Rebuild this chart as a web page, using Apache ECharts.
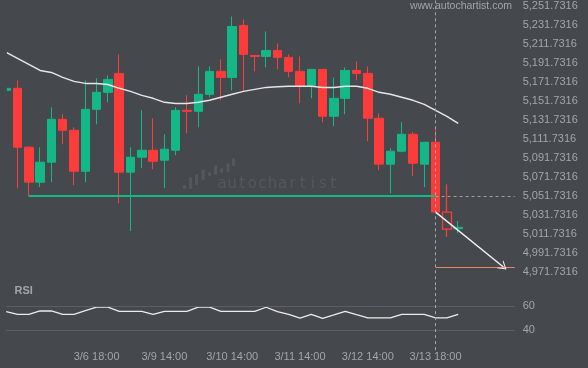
<!DOCTYPE html>
<html>
<head>
<meta charset="utf-8">
<script src="https://cdn.jsdelivr.net/npm/echarts@6/dist/echarts.min.js"></script>
<style>
html,body{margin:0;padding:0;background:#45484d;}
#chart{width:588px;height:368px;}
</style>
</head>
<body>
<div id="chart"></div>
<script>
const CATEGORIES = [
  '3/5 10:00','3/5 14:00','3/5 18:00','3/5 22:00','3/6 02:00','3/6 06:00','3/6 10:00','3/6 14:00',
  '3/6 18:00','3/6 22:00','3/8 22:00','3/9 02:00','3/9 06:00','3/9 10:00','3/9 14:00','3/9 18:00',
  '3/9 22:00','3/10 02:00','3/10 06:00','3/10 10:00','3/10 14:00','3/10 18:00','3/10 22:00','3/11 02:00',
  '3/11 06:00','3/11 10:00','3/11 14:00','3/11 18:00','3/11 22:00','3/12 02:00','3/12 06:00','3/12 10:00',
  '3/12 14:00','3/12 18:00','3/12 22:00','3/13 06:00','3/13 10:00','3/13 14:00','3/13 18:00','3/13 22:00',
  '3/14 02:00','3/14 06:00','3/14 10:00','3/14 14:00','3/14 18:00','3/14 22:00'
];
const X_TICK_LABELS = ['3/6 18:00','3/9 14:00','3/10 14:00','3/11 14:00','3/12 14:00','3/13 18:00'];

const OPEN  = [5162.7,5164.8,5103.0,5066.3,5087.3,5132.3,5120.8,5077.8,5142.8,5160.6,5180.5,5076.8,5092.5,5099.8,5089.4,5099.8,5141.7,5140.7,5158.5,5182.6,5176.3,5230.8,5199.4,5198.3,5204.6,5197.3,5182.6,5167.9,5184.7,5135.5,5154.3,5183.6,5180.5,5133.4,5085.2,5098.8,5116.6,5085.2,5108.2,5034.9,5017.5];
const CLOSE = [5164.8,5103.0,5066.3,5087.3,5132.3,5120.8,5077.8,5142.8,5160.6,5174.2,5076.8,5092.5,5099.8,5088.3,5100.9,5141.7,5140.7,5158.5,5182.6,5176.3,5229.7,5200.4,5198.3,5204.6,5197.3,5182.6,5167.9,5184.7,5135.5,5154.3,5183.6,5180.5,5133.4,5085.2,5098.8,5116.6,5086.2,5108.2,5034.9,5017.1,5019.0];
const LOW   = [5162.7,5060.0,5051.7,5061.1,5066.3,5106.1,5063.2,5066.3,5127.1,5150.1,5044.3,5015.0,5081.0,5079.9,5060.0,5094.6,5117.6,5123.9,5155.4,5152.2,5162.7,5161.6,5182.6,5186.8,5184.7,5176.3,5149.1,5154.3,5129.2,5125.0,5137.5,5173.2,5109.3,5078.9,5054.8,5097.7,5072.6,5061.1,5034.9,5008.7,5012.9];
const HIGH  = [5164.8,5173.2,5104.0,5103.0,5144.9,5137.5,5123.9,5173.2,5175.3,5178.4,5200.4,5103.0,5141.7,5133.4,5116.6,5144.9,5157.5,5187.8,5187.8,5195.2,5240.2,5237.1,5199.4,5224.5,5211.9,5200.4,5198.3,5184.7,5184.7,5176.3,5186.8,5193.1,5187.8,5138.6,5101.9,5129.2,5118.7,5108.2,5123.9,5064.2,5025.5];
const HOLLOW_INDEX = 39;

const MA = [5202.5,5196.2,5189.9,5183.6,5181.5,5176.3,5172.1,5170.0,5170.0,5168.9,5164.8,5161.6,5157.4,5154.3,5150.1,5149.0,5149.0,5150.1,5152.2,5155.4,5158.5,5161.6,5163.7,5165.8,5166.4,5166.9,5166.9,5166.9,5165.8,5165.8,5166.9,5166.9,5164.8,5160.6,5158.5,5155.4,5152.2,5148.0,5141.7,5135.4,5128.1];
const RSI = [55.5,53.3,53.3,56.1,56.1,53.3,53.3,56.4,59.4,59.4,55.8,55.8,55.8,53.3,55.8,55.8,55.8,59.4,59.4,55.8,55.8,55.8,55.8,59.2,55.5,53.3,50.2,53.3,50.0,52.8,55.8,53.0,50.3,50.3,50.3,53.3,53.3,53.3,50.3,50.3,53.3];

const PRICE_TICKS = [4971.7316,4991.7316,5011.7316,5031.7316,5051.7316,5071.7316,5091.7316,5111.7316,5131.7316,5151.7316,5171.7316,5191.7316,5211.7316,5231.7316,5251.7316];
const RSI_TICKS = [40, 60];

const SUPPORT = 5051.7316;
const SUPPORT_START = 2;
const SIGNAL_INDEX = 38;
const TARGET = 4977.3;
const TARGET_INDEX = 44;

const BG = '#45484d', RED = '#fc3b3b', GREEN = '#14b886', LABEL = '#a2a5aa';
const FONT = '"Liberation Sans", Arial, sans-serif';

function fmt(v) {
  const s = v.toFixed(4).split('.');
  return s[0].replace(/\B(?=(\d{3})+(?!\d))/g, ',') + '.' + s[1];
}

const candleData = OPEN.map((o, i) => {
  const item = { value: [o, CLOSE[i], LOW[i], HIGH[i]] };
  if (i === HOLLOW_INDEX) item.itemStyle = { color0: 'rgba(0,0,0,0)', borderColor0: RED, borderWidth: 1.3 };
  return item;
});

// watermark (decorative)
const wmBars = [[183,185,4],[189,177,12],[195,174,11],[201.5,169,11],[208,172,4],[214,165,10],[220,168,5],[226.5,163,9],[232,158,8]];
const wmChildren = wmBars.map(b => ({ type:'rect', shape:{x:b[0], y:b[1], width:3.2, height:b[2], r:1.5}, style:{fill:'#54585d'} }));
'autochartist'.split('').forEach((ch, i) => {
  wmChildren.push({ type:'text', x: 222 + i*10.1, y: 177, style:{ text: ch, fill:'#54585d', font:'15px "DejaVu Sans", sans-serif', align:'center' } });
});

const chart = echarts.init(document.getElementById('chart'), null, { renderer: 'canvas' });
chart.setOption({
  backgroundColor: BG,
  animation: false,
  title: [
    { text: 'www.autochartist.com', right: 76, top: 1, padding: 0, textStyle: { color: LABEL, fontSize: 10.5, fontWeight: 'normal', fontFamily: FONT } },
    { text: 'RSI', left: 14.5, top: 285.5, padding: 0, textStyle: { color: LABEL, fontSize: 11, fontWeight: 'bold', fontFamily: FONT } }
  ],
  graphic: [
    { type: 'group', z: 0, silent: true, children: wmChildren },
    // plot-area clip edge: hides the part of the first candle left of the price pane
    { type: 'rect', z: 100, silent: true, shape: { x: 0, y: 0, width: 6.8, height: 285 }, style: { fill: BG } }
  ],
  grid: [
    { left: 6.2, right: 73.3, top: 0, height: 285.3 },
    { left: 6.2, right: 73.3, top: 285.3, height: 64.8 }
  ],
  xAxis: [
    { type: 'category', gridIndex: 0, data: CATEGORIES, boundaryGap: false,
      axisLine: { show: false }, axisTick: { show: false }, axisLabel: { show: false }, splitLine: { show: false } },
    { type: 'category', gridIndex: 1, data: CATEGORIES, boundaryGap: false,
      axisLine: { show: false }, axisTick: { show: false }, splitLine: { show: false },
      axisLabel: { interval: (i, v) => X_TICK_LABELS.includes(v), color: LABEL, fontSize: 11, fontFamily: FONT, margin: 1.5 } }
  ],
  yAxis: [
    { type: 'value', gridIndex: 0, position: 'right', min: 4958.1, max: 5256.97, scale: true,
      splitLine: { show: false }, axisLine: { show: false }, axisTick: { show: false },
      axisLabel: { customValues: PRICE_TICKS, formatter: fmt, color: LABEL, fontSize: 11, fontFamily: FONT, margin: 8 } },
    { type: 'value', gridIndex: 1, position: 'right', min: 23.5, max: 77.5,
      splitLine: { show: false }, axisLine: { show: false }, axisTick: { show: false },
      axisLabel: { customValues: RSI_TICKS, color: LABEL, fontSize: 11, fontFamily: FONT, margin: 8 } }
  ],
  series: [
    {
      type: 'candlestick', xAxisIndex: 0, yAxisIndex: 0, z: 2, barWidth: 9, clip: true,
      data: candleData,
      itemStyle: { color: GREEN, color0: RED, borderColor: GREEN, borderColor0: RED, borderWidth: 1 },
      markLine: {
        silent: true, symbol: 'none', label: { show: false }, animation: false,
        data: [
          [ { coord: [CATEGORIES[SIGNAL_INDEX], SUPPORT], lineStyle: { color: '#9da0a5', width: 1, type: [3, 3] } },
            { coord: [CATEGORIES[CATEGORIES.length - 1], SUPPORT] } ],
          [ { coord: [CATEGORIES[SUPPORT_START], SUPPORT], lineStyle: { color: GREEN, width: 2, type: 'solid' } },
            { coord: [CATEGORIES[SIGNAL_INDEX], SUPPORT] } ],
          [ { coord: [CATEGORIES[SIGNAL_INDEX], TARGET], lineStyle: { color: '#e7885c', width: 1.2, type: 'solid' } },
            { coord: [CATEGORIES[CATEGORIES.length - 1], TARGET] } ],
          [ { coord: [CATEGORIES[SIGNAL_INDEX], CLOSE[SIGNAL_INDEX]], symbol: 'none', lineStyle: { color: '#f2f2f2', width: 1.4, type: 'solid' } },
            { coord: [CATEGORIES[TARGET_INDEX], TARGET], symbol: 'path://M0,10 L5,0 L10,10 L8.8,10 L5,2.4 L1.2,10 Z', symbolSize: [10, 8] } ],
          { xAxis: CATEGORIES[SIGNAL_INDEX], lineStyle: { color: '#a4a7ac', width: 1, type: [3, 3] } }
        ]
      }
    },
    {
      type: 'line', xAxisIndex: 0, yAxisIndex: 0, z: 3, data: MA, showSymbol: false, symbol: 'none',
      lineStyle: { color: '#e6e6e6', width: 1.5 }
    },
    {
      type: 'line', xAxisIndex: 1, yAxisIndex: 1, z: 3, data: RSI, showSymbol: false, symbol: 'none',
      lineStyle: { color: '#ececec', width: 1.3 },
      markLine: {
        silent: true, symbol: 'none', label: { show: false }, animation: false,
        data: [
          { yAxis: RSI_TICKS[1], lineStyle: { color: '#5b5f64', width: 1, type: 'solid' } },
          { yAxis: RSI_TICKS[0], lineStyle: { color: '#5b5f64', width: 1, type: 'solid' } },
          { xAxis: CATEGORIES[SIGNAL_INDEX], lineStyle: { color: '#a4a7ac', width: 1, type: [3, 3] } }
        ]
      }
    }
  ]
});
</script>
</body>
</html>
